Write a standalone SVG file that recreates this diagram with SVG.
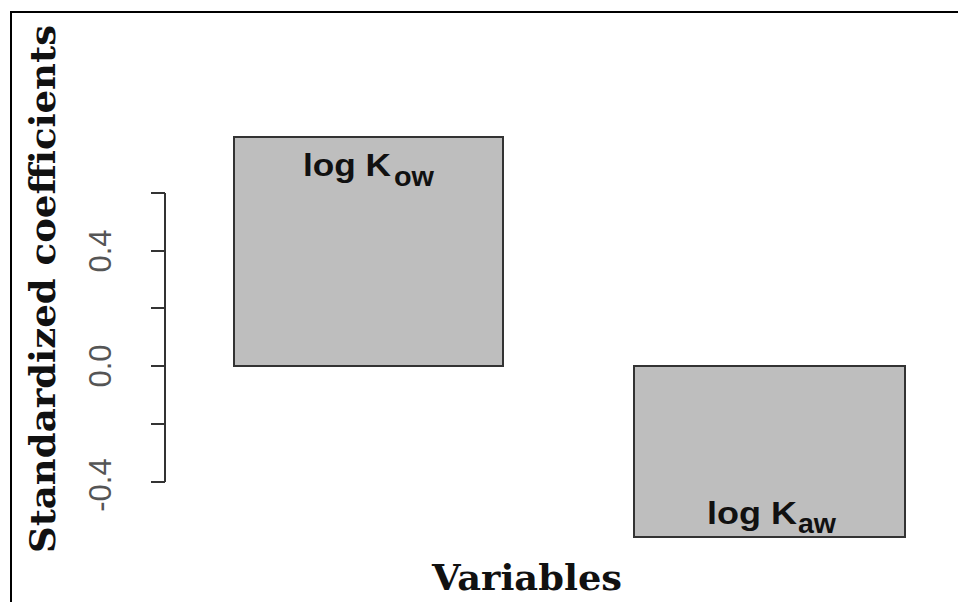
<svg xmlns="http://www.w3.org/2000/svg" width="958" height="602" viewBox="0 0 958 602">
<style>
.bar{fill:#bebebe;stroke:#333;stroke-width:2}
.ax{stroke:#333;stroke-width:2;fill:none}
.tick{font-family:"Liberation Sans",Arial,sans-serif;font-size:31px;fill:#555}
.lbl{font-family:"Liberation Sans",Arial,sans-serif;font-weight:bold;fill:#111}
.title{font-family:"DejaVu Serif",serif;font-weight:bold;font-size:36px;fill:#111}
</style>
<rect width="958" height="602" fill="#fff"/>
<path d="M11,602 V12 H958" fill="none" stroke="#000" stroke-width="2"/>
<g id="axis">
<path class="ax" d="M165,193 V482 M151,193 H165 M151,251 H165 M151,308 H165 M151,366 H165 M151,424 H165 M151,482 H165"/>
<text class="tick" text-anchor="middle" transform="translate(111,251) rotate(-90)">0.4</text>
<text class="tick" text-anchor="middle" transform="translate(111,366) rotate(-90)">0.0</text>
<text class="tick" text-anchor="middle" transform="translate(111,485) rotate(-90)">-0.4</text>
</g>
<g id="bar-kow">
<rect class="bar" x="234" y="137" width="269" height="229"/>
<text class="lbl" x="303" y="176" font-size="32" textLength="88" lengthAdjust="spacingAndGlyphs">log K</text>
<text class="lbl" x="394" y="186" font-size="28" textLength="40" lengthAdjust="spacingAndGlyphs">ow</text>
</g>
<g id="bar-kaw">
<rect class="bar" x="634" y="366" width="271" height="171"/>
<text class="lbl" x="707" y="524" font-size="32" textLength="90" lengthAdjust="spacingAndGlyphs">log K</text>
<text class="lbl" x="798" y="533" font-size="28" textLength="38" lengthAdjust="spacingAndGlyphs">aw</text>
</g>
<g id="titles">
<text class="title" text-anchor="middle" transform="translate(55,289) rotate(-90)" textLength="528" lengthAdjust="spacingAndGlyphs">Standardized  coefficients</text>
<text class="title" x="527" y="590" text-anchor="middle" textLength="190" lengthAdjust="spacingAndGlyphs">Variables</text>
</g>
</svg>
